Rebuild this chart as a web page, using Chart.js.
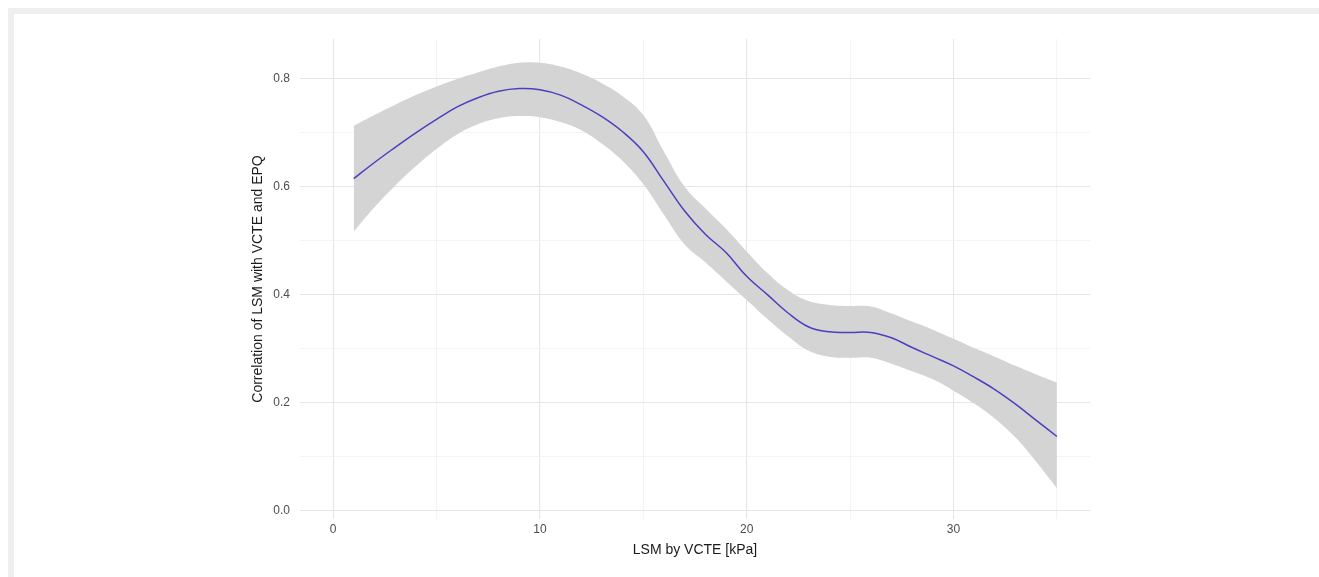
<!DOCTYPE html>
<html lang="en">
<head>
    <meta charset="UTF-8">
    <title>Correlation of LSM with VCTE and EPQ</title>
    <script src="https://cdn.jsdelivr.net/npm/chart.js"></script>
    <style>
        html, body { margin: 0; padding: 0; background: #fff; }
        #wrap { position: relative; width: 1319px; height: 577px; overflow: hidden; }
        #frame { position: absolute; left: 8px; top: 8px; right: 0; bottom: 0;
                 border-top: 6px solid #efefef; border-left: 6px solid #efefef; }
        #chart { position: absolute; left: 0; top: 0; }
    </style>
</head>
<body>
    <div id="wrap">
        <div id="frame"></div>
        <canvas id="chart" width="1319" height="577"></canvas>
    </div>

    <script>
        // LSM by VCTE [kPa]
        const lsm = [1, 2, 3, 4, 5, 6, 7, 8, 9, 10, 11, 12, 13, 14, 15, 16, 17, 18,
                     19, 20, 21, 22, 23, 24, 25, 26, 27, 28, 29, 30, 31, 32, 33, 34, 35];

        // smoothed correlation and its confidence band
        const fit = [0.615, 0.645, 0.673, 0.700, 0.725, 0.748, 0.765, 0.777, 0.782, 0.780,
                     0.770, 0.752, 0.730, 0.702, 0.665, 0.610, 0.555, 0.512, 0.478, 0.434,
                     0.400, 0.366, 0.340, 0.331, 0.330, 0.330, 0.320, 0.302, 0.285, 0.268,
                     0.247, 0.224, 0.197, 0.167, 0.137];
        const upper = [0.713, 0.733, 0.752, 0.770, 0.786, 0.800, 0.812, 0.823, 0.830, 0.830,
                       0.823, 0.810, 0.792, 0.768, 0.733, 0.665, 0.600, 0.560, 0.522, 0.480,
                       0.440, 0.408, 0.388, 0.381, 0.379, 0.378, 0.365, 0.350, 0.335, 0.318,
                       0.301, 0.285, 0.268, 0.252, 0.237];
        const lower = [0.517, 0.562, 0.602, 0.638, 0.670, 0.697, 0.716, 0.727, 0.731, 0.729,
                       0.720, 0.705, 0.680, 0.648, 0.605, 0.548, 0.493, 0.460, 0.425, 0.390,
                       0.355, 0.323, 0.296, 0.285, 0.283, 0.283, 0.272, 0.258, 0.243, 0.222,
                       0.198, 0.170, 0.135, 0.090, 0.041];

        // grid positions and which of them get a label
        const xGrid = [0, 5, 10, 15, 20, 25, 30, 35];
        const xTickLabels = [0, 10, 20, 30];
        const yGrid = [0, 0.1, 0.2, 0.3, 0.4, 0.5, 0.6, 0.7, 0.8];
        const yTickLabels = ['0.0', '0.2', '0.4', '0.6', '0.8'];

        const pts = arr => lsm.map((x, i) => ({ x: x, y: arr[i] }));
        const isMajorY = v => Math.round(v * 10) % 2 === 0;
        const isMajorX = v => xTickLabels.includes(v);

        const tickFont = { family: 'Liberation Sans, Arial, sans-serif', size: 12 };
        const titleFont = { family: 'Liberation Sans, Arial, sans-serif', size: 14 };

        new Chart(document.getElementById('chart'), {
            type: 'line',
            data: {
                datasets: [
                    {
                        label: 'upper',
                        data: pts(upper),
                        borderWidth: 0,
                        pointRadius: 0,
                        backgroundColor: '#d4d4d4',
                        fill: '+1',
                        tension: 0.4,
                        order: 2
                    },
                    {
                        label: 'lower',
                        data: pts(lower),
                        borderWidth: 0,
                        pointRadius: 0,
                        fill: false,
                        tension: 0.4,
                        order: 2
                    },
                    {
                        label: 'fit',
                        data: pts(fit),
                        borderColor: '#4a3fc0',
                        borderWidth: 1.5,
                        pointRadius: 0,
                        fill: false,
                        tension: 0.4,
                        order: 1
                    }
                ]
            },
            options: {
                responsive: false,
                animation: false,
                layout: { padding: { left: 250, top: 39, right: 229, bottom: 12 } },
                plugins: { legend: { display: false }, tooltip: { enabled: false } },
                scales: {
                    x: {
                        type: 'linear',
                        min: -1.6,
                        max: 36.6,
                        afterFit: s => { s.height = 46; },
                        afterBuildTicks: s => { s.ticks = xGrid.map(v => ({ value: v })); },
                        border: { display: false },
                        grid: {
                            drawTicks: false,
                            color: c => isMajorX(c.tick.value) ? '#e6e6e6' : '#f1f1f1',
                            lineWidth: c => isMajorX(c.tick.value) ? 1.1 : 0.8
                        },
                        ticks: {
                            autoSkip: false,
                            maxRotation: 0,
                            padding: 3,
                            color: '#4d4d4d',
                            font: tickFont,
                            callback: v => isMajorX(v) ? String(v) : ''
                        },
                        title: {
                            display: true,
                            text: 'LSM by VCTE [kPa]',
                            color: '#1a1a1a',
                            font: titleFont,
                            padding: { top: 4, bottom: 6 }
                        }
                    },
                    y: {
                        min: -0.016,
                        max: 0.874,
                        afterFit: s => { s.width = 50; },
                        afterBuildTicks: s => { s.ticks = yGrid.map(v => ({ value: v })); },
                        border: { display: false },
                        grid: {
                            drawTicks: false,
                            color: c => isMajorY(c.tick.value) ? '#e6e6e6' : '#f1f1f1',
                            lineWidth: c => isMajorY(c.tick.value) ? 1.1 : 0.8
                        },
                        ticks: {
                            autoSkip: false,
                            padding: 10,
                            color: '#4d4d4d',
                            font: tickFont,
                            callback: v => isMajorY(v) ? yTickLabels[Math.round(v * 5)] : ''
                        },
                        title: {
                            display: true,
                            text: 'Correlation of LSM with VCTE and EPQ',
                            color: '#1a1a1a',
                            font: titleFont,
                            padding: { top: 0, bottom: 0 }
                        }
                    }
                }
            }
        });
    </script>
</body>
</html>
